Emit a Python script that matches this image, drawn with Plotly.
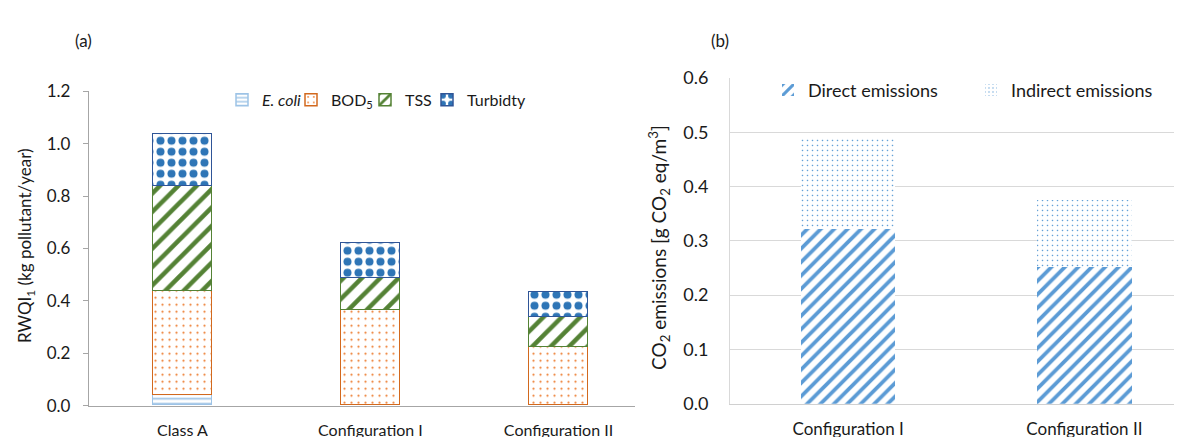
import plotly.graph_objects as go

# ---------------- data ----------------
cats_a = ["Class A", "Configuration I", "Configuration II"]
ecoli = [0.040, 0.0, 0.0]
bod5 = [0.398, 0.365, 0.223]
tss = [0.398, 0.123, 0.115]
turbidity = [0.201, 0.133, 0.096]

cats_b = ["Configuration I", "Configuration II"]
direct = [0.321, 0.251]
indirect = [0.170, 0.125]

yticks_a = [0.0, 0.2, 0.4, 0.6, 0.8, 1.0, 1.2]
yticks_b = [0.0, 0.1, 0.2, 0.3, 0.4, 0.5, 0.6]

FONT = "Lato"
TXT = "#1a1a1a"
W, H = 1182, 437

fig = go.Figure()

def pat(shape, fg, size, solid):
    return dict(shape=shape, fgcolor=fg, bgcolor="white", size=size,
                solidity=solid, fillmode="replace")

wa = [0.314] * len(cats_a)
left_series = [
    ("<i>E. coli</i>", ecoli, pat("-", "#9DC3E6", 5, 0.35), "#9DC3E6", "legend"),
    ("BOD<sub>5</sub>", bod5, pat(".", "#ED7D31", 7, 0.08), "#D2691E", "legend2"),
    ("TSS", tss, pat("/", "#548235", 13, 0.35), "#548235", "legend3"),
    ("Turbidty", turbidity, pat(".", "#2E75B6", 11, 0.42), "#2F5597", "legend4"),
]
for name, vals, p, lc, lg in left_series:
    lw = [1.5 if v > 0 else 0 for v in vals]
    fig.add_trace(go.Bar(
        x=cats_a, y=vals, name=name, width=wa,
        marker=dict(color="white", pattern=p, line=dict(color=lc, width=lw)),
        xaxis="x", yaxis="y", legend=lg,
    ))

wb = [0.4] * len(cats_b)
right_series = [
    ("Direct emissions", direct, pat("/", "#5B9BD5", 9.5, 0.4), "legend5"),
    ("Indirect emissions", indirect, pat(".", "#5B9BD5", 5, 0.08), "legend6"),
]
for name, vals, p, lg in right_series:
    fig.add_trace(go.Bar(
        x=cats_b, y=vals, name=name, width=wb,
        marker=dict(color="white", pattern=p, line=dict(width=0)),
        xaxis="x2", yaxis="y2", legend=lg,
    ))

def leg(left_px, yc_px, size=15):
    return dict(x=left_px / W, y=1 - yc_px / H, xanchor="left", yanchor="middle",
                orientation="h", bgcolor="rgba(0,0,0,0)", borderwidth=0,
                font=dict(family=FONT, size=size, color=TXT))

fig.update_layout(
    width=W, height=H,
    margin=dict(l=0, r=0, t=0, b=0),
    paper_bgcolor="white", plot_bgcolor="white",
    barmode="stack", bargap=0,
    font=dict(family=FONT, size=16, color=TXT),
    showlegend=True,
    legend=leg(214, 84, 16),
    legend2=leg(283, 84, 16),
    legend3=leg(357, 84, 16),
    legend4=leg(419, 84, 16),
    legend5=leg(760, 74, 18),
    legend6=leg(963, 74, 18),
    xaxis=dict(domain=[81 / W, 627 / W], range=[-0.497, 2.407], anchor="y",
               showline=True, linecolor="#A6A6A6", linewidth=1.3,
               ticks="outside", ticklen=10, tickcolor="rgba(0,0,0,0)",
               showgrid=False, tickfont=dict(size=16, color=TXT)),
    yaxis=dict(domain=[31 / H, 362 / H], range=[0, 1.2], anchor="x",
               tickvals=yticks_a, tickformat=".1f",
               showline=True, linecolor="#A6A6A6", linewidth=1.3,
               ticks="outside", ticklen=5, tickcolor="#A6A6A6",
               ticklabelstandoff=9,
               showgrid=False, zeroline=False, tickfont=dict(size=17, color=TXT)),
    xaxis2=dict(domain=[722 / W, 1.0], range=[-0.5, 1.447], anchor="y2",
                showline=True, linecolor="#D0D0D0", linewidth=1.3,
                ticks="outside", ticklen=10, tickcolor="rgba(0,0,0,0)",
                showgrid=False, tickfont=dict(size=17, color=TXT)),
    yaxis2=dict(domain=[33 / H, 376 / H], range=[0, 0.6], anchor="x2",
                tickvals=yticks_b, tickformat=".1f",
                showline=True, linecolor="#D9D9D9", linewidth=1,
                ticks="outside", ticklen=17, tickcolor="rgba(0,0,0,0)",
                showgrid=True, gridcolor="#D9D9D9", gridwidth=1,
                zeroline=False, tickfont=dict(size=18, color=TXT)),
    annotations=[
        dict(text="(a)", x=75 / W, y=1 - 22 / H, xref="paper", yref="paper",
             xanchor="center", yanchor="middle",
             showarrow=False, font=dict(size=17, color=TXT)),
        dict(text="(b)", x=712 / W, y=1 - 22 / H, xref="paper", yref="paper",
             xanchor="center", yanchor="middle",
             showarrow=False, font=dict(size=17, color=TXT)),
        dict(text="RWQI<sub>1</sub> (kg pollutant/year)", x=18 / W, y=1 - 238 / H,
             xref="paper", yref="paper", textangle=-90, showarrow=False,
             xanchor="center", yanchor="middle",
             font=dict(size=17, color=TXT)),
        dict(text="CO<sub>2</sub> emissions [g CO<sub>2</sub> eq/m<sup>3</sup>]",
             x=651 / W, y=1 - 240 / H, xref="paper", yref="paper", textangle=-90,
             xanchor="center", yanchor="middle",
             showarrow=False, font=dict(size=19, color=TXT)),
    ],
)

fig.write_html("out.html")
